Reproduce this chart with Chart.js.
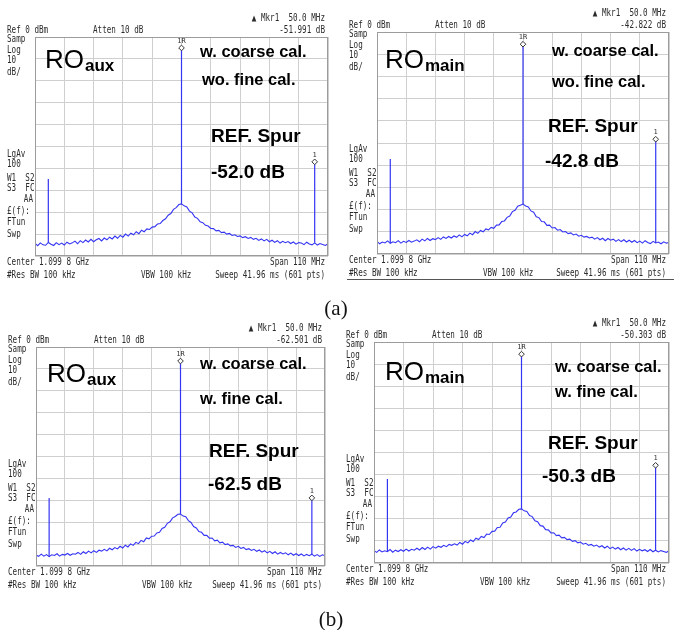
<!DOCTYPE html>
<html>
<head>
<meta charset="utf-8">
<script src="https://cdn.jsdelivr.net/npm/chart.js@4.4.0/dist/chart.umd.min.js"></script>
<style>
  body { margin: 0; background: #fff; }
  #page { position: relative; width: 674px; height: 630px; overflow: hidden; background: #fff; }
  canvas { position: absolute; }
  .cap { position: absolute; font: 21px "Liberation Serif", "Times New Roman", serif; color: #111; transform: translate(-50%, -50%); }
</style>
</head>
<body>
<div id="page">
  <canvas id="c0" width="335" height="285" style="left:0;top:0"></canvas>
  <canvas id="c1" width="339" height="285" style="left:335px;top:0"></canvas>
  <canvas id="c2" width="335" height="310" style="left:0;top:290px"></canvas>
  <canvas id="c3" width="339" height="310" style="left:335px;top:290px"></canvas>
  <div class="cap" style="left:336px;top:308px">(a)</div>
  <div class="cap" style="left:331px;top:619px">(b)</div>
</div>
<script>
// frequency offset from centre (MHz), one point per MHz across the 110 MHz span
const freqMHz = [
  -55, -54, -53, -52, -51, -50, -49, -48, -47, -46, -45, -44, -43, -42, -41,
  -40, -39, -38, -37, -36, -35, -34, -33, -32, -31, -30, -29, -28, -27, -26,
  -25, -24, -23, -22, -21, -20, -19, -18, -17, -16, -15, -14, -13, -12, -11,
  -10, -9, -8, -7, -6, -5, -4, -3, -2, -1,
  0,
  1, 2, 3, 4, 5, 6, 7, 8, 9, 10,
  11, 12, 13, 14, 15, 16, 17, 18, 19, 20, 21, 22, 23, 24, 25,
  26, 27, 28, 29, 30, 31, 32, 33, 34, 35, 36, 37, 38, 39, 40,
  41, 42, 43, 44, 45, 46, 47, 48, 49, 50, 51, 52, 53, 54, 55
];

// trace levels (dBm)
const traceAuxCoarse = [
  -94.2, -95.3, -94.0, -94.9, -95.1, -93.8, -94.6, -95.2, -93.9, -94.8, -94.1, -95.0, -93.7, -94.5, -94.0,
  -93.2, -94.4, -93.0, -93.9, -92.7, -93.6, -92.4, -93.5, -92.6, -92.0, -93.1, -91.8, -92.6, -91.4, -92.2,
  -90.9, -91.9, -90.6, -91.4, -90.0, -90.9, -89.6, -90.3, -88.9, -89.8, -88.2, -88.9, -87.6, -87.9, -86.8,
  -86.6, -85.4, -85.2, -83.8, -83.0, -81.4, -80.6, -78.7, -77.9, -76.5,
  -76.2,
  -77.1, -77.6, -79.5, -80.3, -82.2, -82.8, -84.4, -84.8, -86.0, -86.3,
  -87.4, -87.5, -88.5, -88.3, -89.3, -89.1, -90.0, -89.7, -90.6, -90.3, -91.1, -90.8, -91.6, -91.2, -92.0,
  -91.5, -92.4, -91.9, -92.9, -92.2, -93.1, -92.4, -93.5, -92.8, -93.8, -93.0, -94.1, -93.3, -93.9, -93.4,
  -94.3, -93.6, -94.6, -93.9, -94.1, -94.8, -93.7, -94.5, -94.9, -94.0, -95.0, -94.3, -94.7, -95.2, -94.4
];
const traceMainCoarse = [
  -94.3, -95.4, -94.6, -95.0, -94.1, -95.2, -94.5, -94.9, -94.0, -95.1, -94.3, -94.8, -93.9, -94.7, -94.2,
  -93.6, -94.5, -93.3, -94.1, -93.0, -93.9, -93.1, -93.5, -92.6, -93.4, -92.3, -93.0, -92.1, -92.8, -91.9,
  -92.5, -91.4, -92.3, -91.2, -91.8, -90.6, -91.3, -89.9, -90.7, -89.4, -90.0, -88.7, -89.1, -88.0, -88.4,
  -87.0, -86.9, -85.4, -85.1, -83.5, -82.9, -80.9, -80.3, -78.5, -78.0,
  -77.5,
  -78.4, -78.8, -80.6, -81.2, -83.2, -83.6, -85.4, -85.5, -87.1, -87.0,
  -88.3, -88.1, -89.3, -89.0, -90.1, -89.9, -90.8, -90.5, -91.4, -91.0, -92.0, -91.6, -92.4, -92.1, -92.8,
  -92.4, -93.3, -92.6, -93.6, -92.9, -94.0, -93.0, -93.8, -93.3, -94.3, -93.5, -94.4, -93.6, -94.6, -93.8,
  -94.7, -93.9, -94.9, -94.2, -95.1, -94.0, -94.8, -95.3, -94.3, -95.0, -94.6, -95.4, -94.5, -95.1, -94.8
];
const traceAuxFine = [
  -95.0, -95.6, -94.6, -95.5, -94.8, -95.7, -94.9, -95.2, -94.4, -95.5, -94.7, -95.0, -94.3, -95.1, -94.4,
  -94.6, -93.8, -94.7, -93.5, -94.3, -93.2, -94.0, -93.0, -93.8, -92.8, -93.2, -92.4, -93.1, -91.9, -92.6,
  -91.6, -92.2, -91.0, -91.8, -90.5, -91.3, -89.9, -90.6, -89.2, -89.8, -88.3, -88.9, -87.2, -87.6, -86.4,
  -86.3, -84.9, -84.6, -82.9, -82.3, -80.5, -79.8, -78.0, -77.4, -76.4,
  -76.3,
  -77.2, -77.5, -79.3, -80.1, -82.0, -82.6, -84.3, -84.6, -86.0, -86.0,
  -87.3, -87.2, -88.5, -88.2, -89.4, -89.1, -90.2, -89.9, -90.8, -90.6, -91.5, -91.0, -92.0, -91.5, -92.5,
  -92.1, -92.9, -92.4, -93.3, -92.7, -93.7, -93.0, -94.0, -93.3, -94.3, -93.5, -94.6, -93.8, -94.5, -94.0,
  -94.9, -94.1, -95.1, -94.4, -95.2, -94.5, -95.4, -94.7, -95.3, -94.6, -95.5, -94.8, -95.6, -94.9, -95.3
];
const traceMainFine = [
  -94.4, -95.2, -94.1, -95.0, -94.5, -94.9, -93.9, -95.1, -94.2, -94.8, -94.0, -94.7, -93.7, -94.6, -93.8,
  -94.2, -93.3, -94.1, -93.0, -93.9, -92.8, -93.7, -92.6, -93.3, -92.4, -92.9, -92.0, -92.6, -91.6, -92.0,
  -91.3, -91.9, -90.7, -91.5, -90.2, -90.9, -89.6, -90.3, -88.8, -89.4, -88.0, -88.5, -86.9, -87.1, -85.7,
  -85.6, -83.9, -83.8, -81.9, -81.5, -79.6, -79.2, -77.3, -76.9, -75.7,
  -75.5,
  -76.4, -76.7, -78.5, -79.0, -80.9, -81.3, -83.1, -83.3, -84.9, -85.0,
  -86.4, -86.3, -87.6, -87.4, -88.6, -88.4, -89.4, -89.2, -90.2, -89.9, -90.9, -90.5, -91.5, -91.1, -92.0,
  -91.6, -92.4, -91.9, -92.8, -92.2, -93.2, -92.4, -93.5, -92.8, -93.7, -93.0, -94.0, -93.2, -94.2, -93.4,
  -94.3, -93.5, -94.6, -93.8, -94.5, -94.0, -94.8, -93.9, -94.9, -94.2, -95.0, -94.4, -94.8, -95.2, -94.5
];

// spur / carrier peaks (dBm) at -50, 0, +50 MHz
const spurFreqMHz = [-50, 0, 50];
const peaksAuxCoarse = [-64.8, -5.0, -57.0];
const peaksMainCoarse = [-57.2, -5.5, -48.3];
const peaksAuxFine = [-69.0, -6.4, -68.9];
const peaksMainFine = [-62.0, -5.5, -55.8];

const deltaReadouts = ["-51.991 dB", "-42.822 dB", "-62.501 dB", "-50.303 dB"];
const spurLabels = ["-52.0 dB", "-42.8 dB", "-62.5 dB", "-50.3 dB"];
const roNames = ["aux", "main", "aux", "main"];
const fineLabels = ["wo. fine cal.", "wo. fine cal.", "w. fine cal.", "w. fine cal."];

const traces = [traceAuxCoarse, traceMainCoarse, traceAuxFine, traceMainFine];
const peaks = [peaksAuxCoarse, peaksMainCoarse, peaksAuxFine, peaksMainFine];

// layout of each screen: chart-area padding and text offsets from the grid's top-left
const layouts = [
  { pad: { left: 35, top: 37, right: 7, bottom: 29 }, ro: [10, 31], c1: [165, 15], c2: [167, 43], ref: [176, 100], val: [176, 136] },
  { pad: { left: 42, top: 32, right: 1, bottom: 31 }, ro: [8, 36], c1: [175, 19], c2: [175, 50], ref: [171, 95], val: [168, 130], rule: true },
  { pad: { left: 36, top: 57, right: 10, bottom: 34 }, ro: [11, 35], c1: [164, 17], c2: [164, 52], ref: [173, 105], val: [172, 138] },
  { pad: { left: 39, top: 52, right: 4, bottom: 37 }, ro: [11, 38], c1: [181, 25], c2: [181, 50], ref: [174, 102], val: [168, 135] }
];

const leftTop = ["Samp", "Log", "10", "dB/"];
const leftTopDy = [2, 13, 23, 35];
const leftLow = ["LgAv", "100", "W1  S2", "S3  FC", "", "£(f):", "FTun", "Swp"];
const leftLowDy = [117, 127, 141, 151, 162, 174, 185, 197];

const TRACE = "#3434f4";
const SANS = "'Liberation Sans', Arial, sans-serif";

function mono(ctx, s, x, y, align) {
  ctx.save();
  ctx.font = "10px 'DejaVu Sans Mono', monospace";
  ctx.textBaseline = "middle";
  ctx.textAlign = align || "left";
  ctx.fillStyle = "#2a2a2a";
  ctx.translate(x, y);
  ctx.scale(0.76, 1);
  ctx.fillText(s, 0, 0);
  ctx.restore();
}

function bigText(ctx, s, x, y, font) {
  ctx.font = font;
  ctx.fillStyle = "#000";
  ctx.textAlign = "left";
  ctx.textBaseline = "middle";
  ctx.fillText(s, x, y);
}

function makeOverlay(i) {
  const lay = layouts[i];
  return {
    id: "screenText" + i,
    afterDraw(chart) {
      const { ctx, chartArea: a, scales } = chart;
      const L = a.left, T = a.top, R = a.right, B = a.bottom;
      ctx.save();
      // grid frame
      ctx.strokeStyle = "#9c9c9c";
      ctx.lineWidth = 1;
      ctx.strokeRect(L + 0.5, T + 0.5, R - L - 1, B - T - 1);

      // analyzer header / footer readouts
      mono(ctx, "\u25B2 Mkr1  50.0 MHz", R - 3, T - 19, "right");
      mono(ctx, "Ref 0 dBm", L - 28, T - 7);
      mono(ctx, "Atten 10 dB", L + 58, T - 7);
      mono(ctx, deltaReadouts[i], R - 3, T - 7, "right");
      leftTop.forEach((s, k) => mono(ctx, s, L - 28, T + leftTopDy[k]));
      leftLow.forEach((s, k) => mono(ctx, s, L - 28, T + leftLowDy[k]));
      mono(ctx, "AA", L - 2, T + leftLowDy[4], "right");
      mono(ctx, "Center 1.099 8 GHz", L - 28, B + 6);
      mono(ctx, "Span 110 MHz", R - 3, B + 6, "right");
      mono(ctx, "#Res BW 100 kHz", L - 28, B + 19);
      mono(ctx, "VBW 100 kHz", L + 106, B + 19);
      mono(ctx, "Sweep 41.96 ms (601 pts)", R - 3, B + 19, "right");

      // marker labels above the diamonds
      const pk = peaks[i];
      ctx.save();
      ctx.font = "7px 'DejaVu Sans Mono', monospace";
      ctx.fillStyle = "#333";
      ctx.textAlign = "center";
      ctx.textBaseline = "middle";
      ctx.fillText("1R", scales.x.getPixelForValue(spurFreqMHz[1]), scales.y.getPixelForValue(pk[1]) - 7);
      ctx.fillText("1", scales.x.getPixelForValue(spurFreqMHz[2]), scales.y.getPixelForValue(pk[2]) - 7);
      ctx.restore();

      // annotations
      ctx.font = "26px " + SANS;
      ctx.fillStyle = "#000";
      ctx.textAlign = "left";
      ctx.textBaseline = "alphabetic";
      ctx.fillText("RO", L + lay.ro[0], T + lay.ro[1]);
      const w = ctx.measureText("RO").width;
      ctx.font = "bold 17px " + SANS;
      ctx.fillText(roNames[i], L + lay.ro[0] + w + 1, T + lay.ro[1] + 3);
      bigText(ctx, "w. coarse cal.", L + lay.c1[0], T + lay.c1[1], "bold 16.5px " + SANS);
      bigText(ctx, fineLabels[i], L + lay.c2[0], T + lay.c2[1], "bold 16.5px " + SANS);
      bigText(ctx, "REF. Spur", L + lay.ref[0], T + lay.ref[1], "bold 19px " + SANS);
      bigText(ctx, spurLabels[i], L + lay.val[0], T + lay.val[1], "bold 19px " + SANS);

      if (lay.rule) {
        ctx.strokeStyle = "#555";
        ctx.beginPath();
        ctx.moveTo(12, B + 25.5);
        ctx.lineTo(chart.width, B + 25.5);
        ctx.stroke();
      }
      ctx.restore();
    }
  };
}

function buildChart(i) {
  const trace = traces[i];
  const pk = peaks[i];
  const datasets = [{
    data: freqMHz.map((f, k) => ({ x: f, y: trace[k] })),
    borderColor: TRACE,
    borderWidth: 1.1,
    pointRadius: 0
  }];
  spurFreqMHz.forEach((f, k) => {
    const base = trace[freqMHz.indexOf(f)];
    const marked = k > 0;
    datasets.push({
      data: [{ x: f, y: base }, { x: f, y: pk[k] }],
      borderColor: TRACE,
      borderWidth: 1.2,
      pointRadius: [0, marked ? 2.8 : 0],
      pointStyle: "rectRot",
      pointBackgroundColor: "#fff",
      pointBorderColor: "#333",
      pointBorderWidth: 1
    });
  });

  new Chart(document.getElementById("c" + i), {
    type: "line",
    data: { datasets },
    options: {
      responsive: false,
      animation: false,
      events: [],
      layout: { padding: layouts[i].pad },
      plugins: { legend: { display: false }, tooltip: { enabled: false } },
      scales: {
        x: {
          type: "linear", min: -55, max: 55,
          ticks: { display: false, stepSize: 11 },
          grid: { color: "#cfcfcf", drawTicks: false },
          border: { display: false }
        },
        y: {
          min: -100, max: 0,
          ticks: { display: false, stepSize: 10 },
          grid: { color: "#cfcfcf", drawTicks: false },
          border: { display: false }
        }
      }
    },
    plugins: [makeOverlay(i)]
  });
}

[0, 1, 2, 3].forEach(buildChart);
</script>
</body>
</html>
